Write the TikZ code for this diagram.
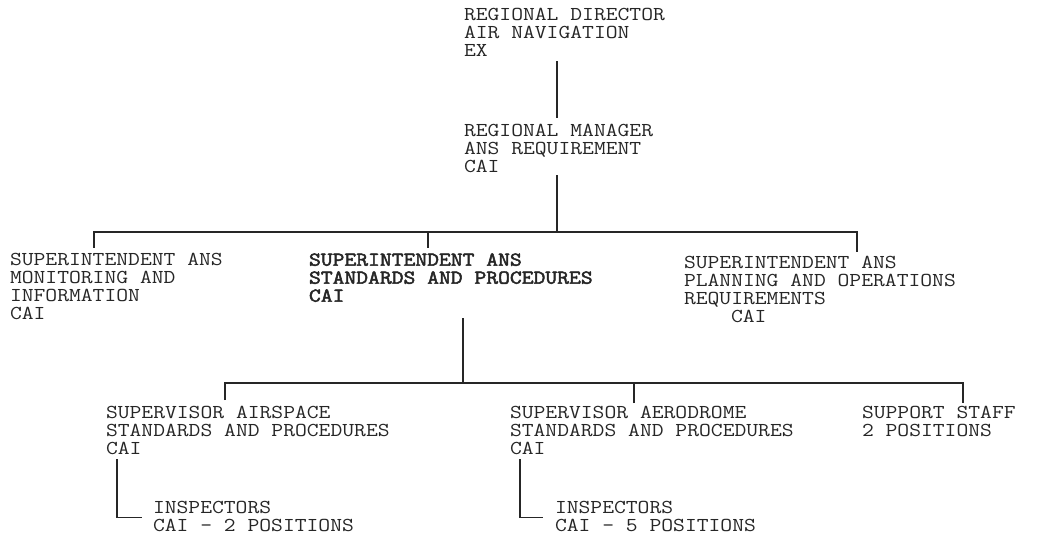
\documentclass[tikz,border=0pt]{standalone}
\usepackage{fontspec}
\newfontfamily\tw{Latin Modern Mono}[FakeStretch=1.165]
\newfontfamily\twb{Latin Modern Mono}[FakeStretch=1.165,FakeBold=2.5]
\usetikzlibrary{calc}
\definecolor{ink}{rgb}{0.15,0.15,0.15}
\begin{document}
\begin{tikzpicture}[x=1pt,y=-1pt,
  lbl/.style={anchor=north west,inner sep=0pt,outer sep=0pt,align=left,text=ink,
    font=\fontsize{19.7}{18}\selectfont\tw},
  blbl/.style={lbl,font=\fontsize{19.7}{18}\selectfont\twb},
  conn/.style={draw=ink,line width=1.3pt}]
\useasboundingbox (0,0) rectangle (1037,540);
\fill[white] (0,0) rectangle (1037,540);
% nodes
\node[lbl] (top) at (464,8.4) {REGIONAL DIRECTOR\\AIR NAVIGATION\\EX};
\node[lbl] (mgr) at (464,124.4) {REGIONAL MANAGER\\ANS REQUIREMENT\\CAI};
\node[lbl] (s1) at (10,253.4) {SUPERINTENDENT ANS\\MONITORING AND\\INFORMATION\\CAI};
\node[blbl] (s2) at (309,253.4) {SUPERINTENDENT ANS\\STANDARDS AND PROCEDURES\\CAI};
\node[lbl] (s3) at (684,256.4) {SUPERINTENDENT ANS\\PLANNING AND OPERATIONS\\REQUIREMENTS\\\hspace*{47pt}CAI};
\node[lbl] (sup1) at (106,406.4) {SUPERVISOR AIRSPACE\\STANDARDS AND PROCEDURES\\CAI};
\node[lbl] (sup2) at (510,406.4) {SUPERVISOR AERODROME\\STANDARDS AND PROCEDURES\\CAI};
\node[lbl] (sup3) at (862,406.4) {SUPPORT STAFF\\2 POSITIONS};
\node[lbl] (insp1) at (153,501.4) {INSPECTORS\\CAI - 2 POSITIONS};
\node[lbl] (insp2) at (555,501.4) {INSPECTORS\\CAI - 5 POSITIONS};
% bus coordinates
\coordinate (busA) at (557,232);
\coordinate (busB) at (463,383);
% connectors
\draw[conn] ($(top.south west)+(93,4.4)$) -- ($(mgr.north west)+(93,-6)$);
\draw[conn] ($(mgr.south west)+(93,2.4)$) -- (busA);
\draw[conn] ($(s1.north west)+(84,-5.4)$) |- (busA) -| ($(s3.north west)+(173,-4.4)$);
\coordinate (t2) at ($(s2.north west)+(119,-5.4)$);
\draw[conn] (t2) -- (t2 |- busA);
\draw[conn] ($(s2.south west)+(154,16.4)$) -- (busB);
\draw[conn] ($(sup1.north west)+(119,-6.4)$) |- (busB) -| ($(sup3.north west)+(101,-3.4)$);
\coordinate (t5) at ($(sup2.north west)+(124,-3.4)$);
\draw[conn] (t5) -- (t5 |- busB);
\draw[conn] ($(sup1.south west)+(11,4.4)$) |- ($(insp1.west)+(-11,1)$);
\draw[conn] ($(sup2.south west)+(10,4.4)$) |- ($(insp2.west)+(-12,1)$);
\end{tikzpicture}
\end{document}
